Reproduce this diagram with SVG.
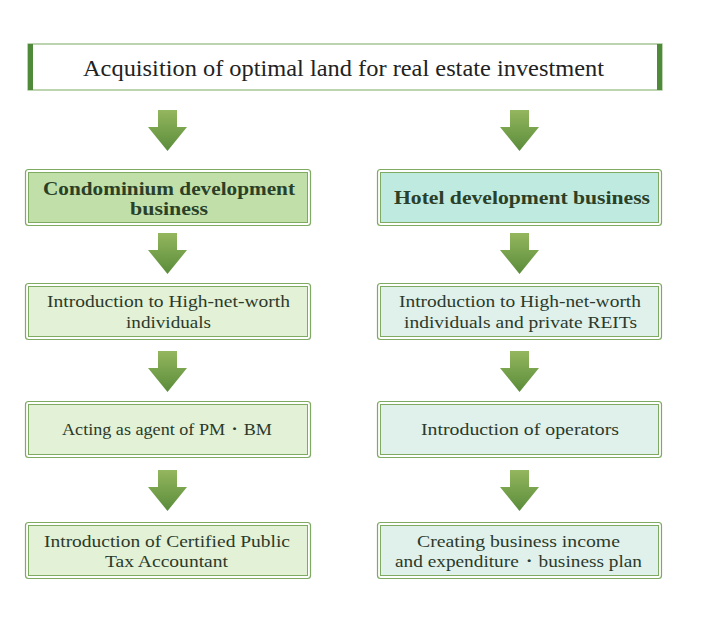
<svg xmlns="http://www.w3.org/2000/svg" width="717" height="638" viewBox="0 0 717 638">
<style>
.t{font-family:"Liberation Serif","Times New Roman",serif;fill:#2b3a2b;text-anchor:middle}
.title{font-size:23px;fill:#222}
.hd{font-size:19px;font-weight:bold;fill:#2a4028}
.bd{font-size:17.5px}
.outer{fill:none;stroke:#7eaa62;stroke-width:1.2}
.inner{stroke:#7eaa62;stroke-width:1}
.lg{fill:#e3f1d6}
.lh{fill:#c1e0a9}
.rg{fill:#e0f1ec}
.rh{fill:#bfeadf}
.arr{fill:url(#ag)}
</style>
<defs>
<linearGradient id="ag" x1="0" y1="0" x2="0" y2="1">
<stop offset="0" stop-color="#94b65e"/>
<stop offset="1" stop-color="#5a8c3a"/>
</linearGradient>
</defs>
<rect width="717" height="638" fill="#fff"/>
<g id="top">
<rect x="28" y="44" width="634" height="46" fill="#fff" stroke="#8fb77a" stroke-width="1.2"/>
<rect x="28" y="44" width="5" height="46" fill="#4f8a3a"/>
<rect x="657" y="44" width="5" height="46" fill="#4f8a3a"/>
<text class="t title" x="343.5" y="76" textLength="521" lengthAdjust="spacingAndGlyphs">Acquisition of optimal land for real estate investment</text>
</g>
<g id="connectors">
<path class="arr" d="M158 110h19v17h10l-19.5 24l-19.5-24h10z"/>
<path class="arr" d="M510 110h19v17h10l-19.5 24l-19.5-24h10z"/>
<path class="arr" d="M158 233h19v17h10l-19.5 24l-19.5-24h10z"/>
<path class="arr" d="M510 233h19v17h10l-19.5 24l-19.5-24h10z"/>
<path class="arr" d="M158 351h19v17h10l-19.5 24l-19.5-24h10z"/>
<path class="arr" d="M510 351h19v17h10l-19.5 24l-19.5-24h10z"/>
<path class="arr" d="M158 470h19v17h10l-19.5 24l-19.5-24h10z"/>
<path class="arr" d="M510 470h19v17h10l-19.5 24l-19.5-24h10z"/>
</g>
<g id="condo">
<rect x="25.5" y="169.5" width="285" height="56" rx="3" class="outer" fill="#fff"/>
<rect x="28.5" y="172.5" width="279" height="50" class="lh inner"/>
<text class="t hd" x="169" y="195" textLength="252" lengthAdjust="spacingAndGlyphs">Condominium development</text>
<text class="t hd" x="169" y="215" textLength="78" lengthAdjust="spacingAndGlyphs">business</text>
</g>
<g id="hotel">
<rect x="377.5" y="169.5" width="284" height="56" rx="3" class="outer" fill="#fff"/>
<rect x="380.5" y="172.5" width="278" height="50" class="rh inner"/>
<text class="t hd" x="522" y="204" textLength="256" lengthAdjust="spacingAndGlyphs">Hotel development business</text>
</g>
<g id="l2">
<rect x="25.5" y="283.5" width="285" height="56" rx="3" class="outer" fill="#fff"/>
<rect x="28.5" y="286.5" width="279" height="50" class="lg inner"/>
<text class="t bd" x="168.5" y="307" textLength="243" lengthAdjust="spacingAndGlyphs">Introduction to High-net-worth</text>
<text class="t bd" x="168.5" y="328" textLength="85" lengthAdjust="spacingAndGlyphs">individuals</text>
</g>
<g id="r2">
<rect x="377.5" y="283.5" width="284" height="56" rx="3" class="outer" fill="#fff"/>
<rect x="380.5" y="286.5" width="278" height="50" class="rg inner"/>
<text class="t bd" x="520" y="307" textLength="242" lengthAdjust="spacingAndGlyphs">Introduction to High-net-worth</text>
<text class="t bd" x="520.5" y="328" textLength="233" lengthAdjust="spacingAndGlyphs">individuals and private REITs</text>
</g>
<g id="l3">
<rect x="25.5" y="401.5" width="285" height="56" rx="3" class="outer" fill="#fff"/>
<rect x="28.5" y="404.5" width="279" height="50" class="lg inner"/>
<text class="t bd" x="167" y="435" textLength="210" lengthAdjust="spacingAndGlyphs">Acting as agent of PM・BM</text>
</g>
<g id="r3">
<rect x="377.5" y="401.5" width="284" height="56" rx="3" class="outer" fill="#fff"/>
<rect x="380.5" y="404.5" width="278" height="50" class="rg inner"/>
<text class="t bd" x="520" y="435" textLength="198" lengthAdjust="spacingAndGlyphs">Introduction of operators</text>
</g>
<g id="l4">
<rect x="25.5" y="522.5" width="285" height="56" rx="3" class="outer" fill="#fff"/>
<rect x="28.5" y="525.5" width="279" height="50" class="lg inner"/>
<text class="t bd" x="167" y="547" textLength="246" lengthAdjust="spacingAndGlyphs">Introduction of Certified Public</text>
<text class="t bd" x="166.5" y="567" textLength="123" lengthAdjust="spacingAndGlyphs">Tax Accountant</text>
</g>
<g id="r4">
<rect x="377.5" y="522.5" width="284" height="56" rx="3" class="outer" fill="#fff"/>
<rect x="380.5" y="525.5" width="278" height="50" class="rg inner"/>
<text class="t bd" x="518.5" y="547" textLength="203" lengthAdjust="spacingAndGlyphs">Creating business income</text>
<text class="t bd" x="518.5" y="567" textLength="247" lengthAdjust="spacingAndGlyphs">and expenditure・business plan</text>
</g>
</svg>
